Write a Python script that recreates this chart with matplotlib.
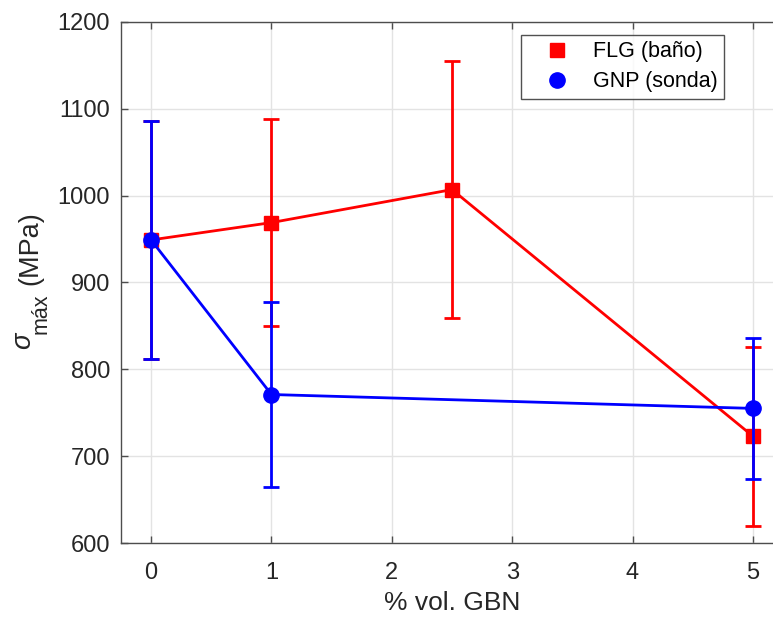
import matplotlib
matplotlib.use("Agg")
import matplotlib.pyplot as plt
from matplotlib.lines import Line2D

plt.rcParams['font.family'] = ['Liberation Sans', 'DejaVu Sans']
plt.rcParams['mathtext.fontset'] = 'custom'
plt.rcParams['mathtext.rm'] = 'Liberation Sans'
plt.rcParams['mathtext.it'] = 'Liberation Sans:italic'

# Data
flg_x = [0, 1, 2.5, 5]
flg_y = [949, 969, 1007, 723]
flg_err = [137, 119, 148, 103]
gnp_x = [0, 1, 5]
gnp_y = [949, 771, 755]
gnp_err = [137, 107, 81]
labels = ['FLG (baño)', 'GNP (sonda)']
xticks = [0, 1, 2, 3, 4, 5]
yticks = [600, 700, 800, 900, 1000, 1100, 1200]

W, H = 773, 617
fig = plt.figure(figsize=(W / 100, H / 100), dpi=100)
ax = fig.add_axes([121 / W, 74 / H, 662 / W, 521 / H])

ax.errorbar(flg_x, flg_y, yerr=flg_err, color='#ff0000', marker='s', markersize=10,
            linewidth=2, elinewidth=2, capsize=5.5, capthick=2, zorder=3)
ax.errorbar(gnp_x, gnp_y, yerr=gnp_err, color='#0000ff', marker='o', markersize=11,
            linewidth=2, elinewidth=2, capsize=5.5, capthick=2, zorder=4)

ax.set_xlim(-0.25, 5.25)
ax.set_ylim(600, 1200)
ax.set_xticks(xticks)
ax.set_yticks(yticks)
ax.grid(True, color='#e3e3e3', linewidth=1)
ax.set_axisbelow(True)
for s in ax.spines.values():
    s.set_color('#4d4d4d')
    s.set_linewidth(1)
ax.tick_params(direction='in', length=5, width=1, colors='#4d4d4d',
               labelcolor='#262626', labelsize=17, top=True, right=True)
ax.tick_params(axis='y', pad=8)
ax.tick_params(axis='x', pad=14)

ax.set_xlabel('% vol. GBN', fontsize=19, color='#262626', labelpad=5)

# y label built from pieces (large subscript, as in the reference)
def ftext(px, py, s, **kw):
    fig.text(px / W, 1 - py / H, s, rotation=90, rotation_mode='anchor',
             ha='center', va='baseline', color='#262626', **kw)

ftext(31, 340, r'$\sigma$', fontsize=19.5)
ftext(47, 314, 'máx', fontsize=15.5)
ftext(37, 248, '(MPa)', fontsize=19.5)

handles = [Line2D([], [], color='#ff0000', marker='s', linestyle='none', markersize=10),
           Line2D([], [], color='#0000ff', marker='o', linestyle='none', markersize=11)]
leg = ax.legend(handles, labels, loc='upper left', bbox_to_anchor=(400 / 662, 1 - 13 / 521),
                fontsize=15.5, frameon=True, fancybox=False, edgecolor='#262626',
                borderpad=0.3, handlelength=2.75, handletextpad=0.3,
                labelspacing=0.4, borderaxespad=0)
leg.get_frame().set_linewidth(1)

fig.savefig('out.png', dpi=100)
